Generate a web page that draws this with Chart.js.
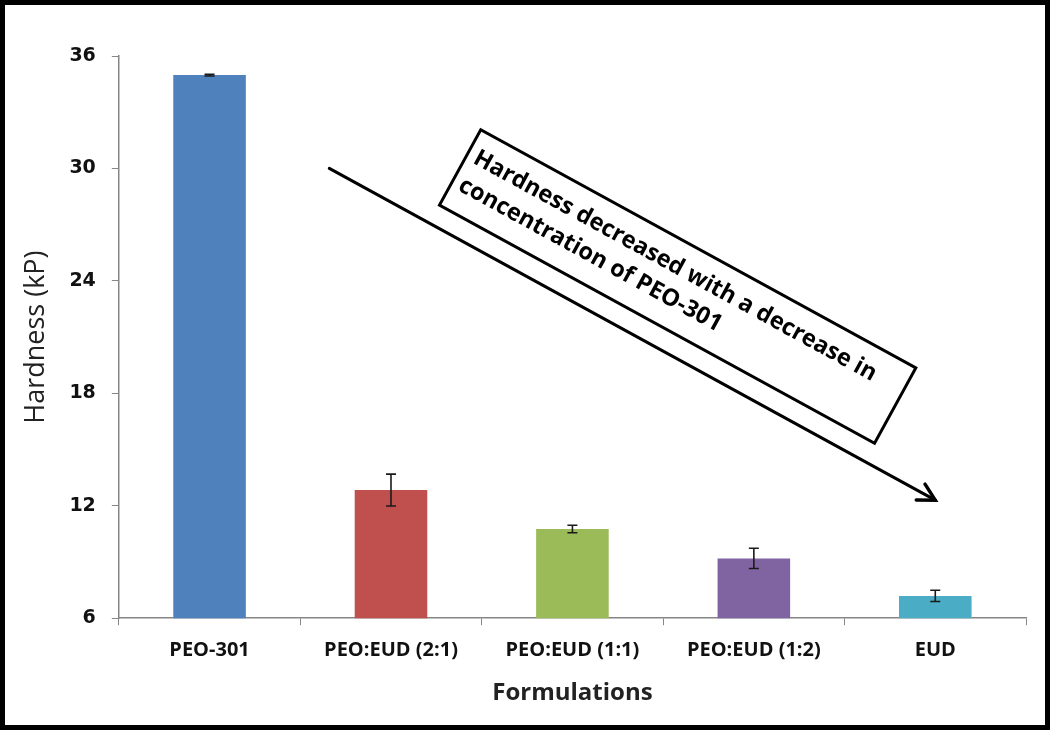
<!DOCTYPE html>
<html>
<head>
<meta charset="utf-8">
<script src="https://cdn.jsdelivr.net/npm/chart.js@4.4.0/dist/chart.umd.min.js"></script>
<style>
  html, body { margin: 0; padding: 0; background: #fff; }
  #wrap { width: 1050px; height: 730px; position: relative; }
</style>
</head>
<body>
<div id="wrap"><canvas id="chart" width="1050" height="730"></canvas></div>
<script>
// ---------------------------------------------------------------------------
// Data
// ---------------------------------------------------------------------------
const categories = ['PEO-301', 'PEO:EUD (2:1)', 'PEO:EUD (1:1)', 'PEO:EUD (1:2)', 'EUD'];
const hardness   = [34.98, 12.84, 10.76, 9.19, 7.19];
const hardnessSd = [0.05, 0.85, 0.2, 0.54, 0.3];
const barColors  = ['#4F81BD', '#C0504D', '#9BBB59', '#8064A2', '#4BACC6'];
const yTicks     = [6, 12, 18, 24, 30, 36];

const noteLines = ['Hardness decreased with a decrease in', 'concentration of PEO-301'];

const FONT = "'Open Sans', 'Noto Sans', sans-serif";
const AXIS_GREY = '#868686';

// error bars: vertical line with caps, drawn through the scales
const errorBars = {
  id: 'errorBars',
  afterDatasetsDraw(chart) {
    const { ctx, scales: { x, y } } = chart;
    ctx.save();
    ctx.strokeStyle = '#1a1a1a';
    ctx.lineWidth = 1.6;
    hardness.forEach((v, i) => {
      const px = x.getPixelForValue(i);
      const top = y.getPixelForValue(v + hardnessSd[i]);
      const bot = y.getPixelForValue(v - hardnessSd[i]);
      ctx.beginPath();
      ctx.moveTo(px, top); ctx.lineTo(px, bot);
      ctx.moveTo(px - 5, top); ctx.lineTo(px + 5, top);
      ctx.moveTo(px - 5, bot); ctx.lineTo(px + 5, bot);
      ctx.stroke();
    });
    ctx.restore();
  }
};

// rotated text box + trend arrow, anchored in data space
const trendNote = {
  id: 'trendNote',
  afterDraw(chart) {
    const { ctx, scales: { x, y } } = chart;
    const x0 = x.getPixelForValue(0.66), y0 = y.getPixelForValue(30);
    const x1 = x.getPixelForValue(4.0),  y1 = y.getPixelForValue(12.3);
    const ang = Math.atan2(y1 - y0, x1 - x0);

    ctx.save();
    ctx.strokeStyle = '#000';
    ctx.lineWidth = 3;
    ctx.lineCap = 'round';
    ctx.beginPath();
    ctx.moveTo(x0, y0); ctx.lineTo(x1, y1);
    ctx.stroke();
    // arrow head
    ctx.beginPath();
    ctx.lineWidth = 3.5;
    const hl = 19;
    ctx.moveTo(x1 - hl * Math.cos(ang - 0.5), y1 - hl * Math.sin(ang - 0.5));
    ctx.lineTo(x1, y1);
    ctx.lineTo(x1 - hl * Math.cos(ang + 0.5), y1 - hl * Math.sin(ang + 0.5));
    ctx.stroke();

    // box
    const cx = x.getPixelForValue(2.58), cy = y.getPixelForValue(23.7);
    const w = 496, h = 86;
    ctx.translate(cx, cy);
    ctx.rotate(ang);
    ctx.fillStyle = '#fff';
    ctx.fillRect(-w / 2, -h / 2, w, h);
    ctx.lineWidth = 3;
    ctx.lineJoin = 'miter';
    ctx.strokeRect(-w / 2, -h / 2, w, h);
    ctx.fillStyle = '#000';
    ctx.font = `bold 23.5px ${FONT}`;
    ctx.textBaseline = 'alphabetic';
    ctx.textAlign = 'left';
    ctx.fillText(noteLines[0], -w / 2 + 8, -h / 2 + 33);
    ctx.fillText(noteLines[1], -w / 2 + 8, -h / 2 + 64);
    ctx.restore();

    // outer frame
    ctx.save();
    ctx.strokeStyle = '#000';
    ctx.lineWidth = 5;
    ctx.strokeRect(2.5, 2.5, chart.width - 5, chart.height - 5);
    ctx.restore();
  }
};

new Chart(document.getElementById('chart'), {
  type: 'bar',
  data: {
    labels: categories,
    datasets: [{
      data: hardness,
      backgroundColor: barColors,
      borderWidth: 0,
      barPercentage: 0.4,
      categoryPercentage: 1.0,
    }],
  },
  options: {
    responsive: false,
    animation: false,
    layout: { padding: { top: 56, right: 24, bottom: 22, left: 20 } },
    plugins: {
      legend: { display: false },
      tooltip: { enabled: false },
    },
    scales: {
      x: {
        grid: { display: true, drawOnChartArea: false, drawTicks: true, tickLength: 7, color: AXIS_GREY, offset: true },
        border: { display: true, color: AXIS_GREY, width: 1.5 },
        ticks: { color: '#111', font: { family: FONT, size: 20, weight: 'bold' }, padding: 13 },
        title: {
          display: true, text: 'Formulations', color: '#222',
          font: { family: FONT, size: 24, weight: 'bold' }, padding: { top: 4, bottom: 0 },
        },
      },
      y: {
        min: 6, max: 36,
        afterBuildTicks: axis => { axis.ticks = yTicks.map(v => ({ value: v })); },
        grid: { display: true, drawOnChartArea: false, drawTicks: true, tickLength: 7, color: AXIS_GREY },
        border: { display: true, color: AXIS_GREY, width: 1.5 },
        ticks: { color: '#111', font: { family: "Verdana, 'DejaVu Sans', sans-serif", size: 19, weight: 'bold' }, padding: 16 },
        title: {
          display: true, text: 'Hardness (kP)', color: '#222',
          font: { family: FONT, size: 27 }, padding: { top: 0, bottom: 1 },
        },
      },
    },
  },
  plugins: [errorBars, trendNote],
});
</script>
</body>
</html>
